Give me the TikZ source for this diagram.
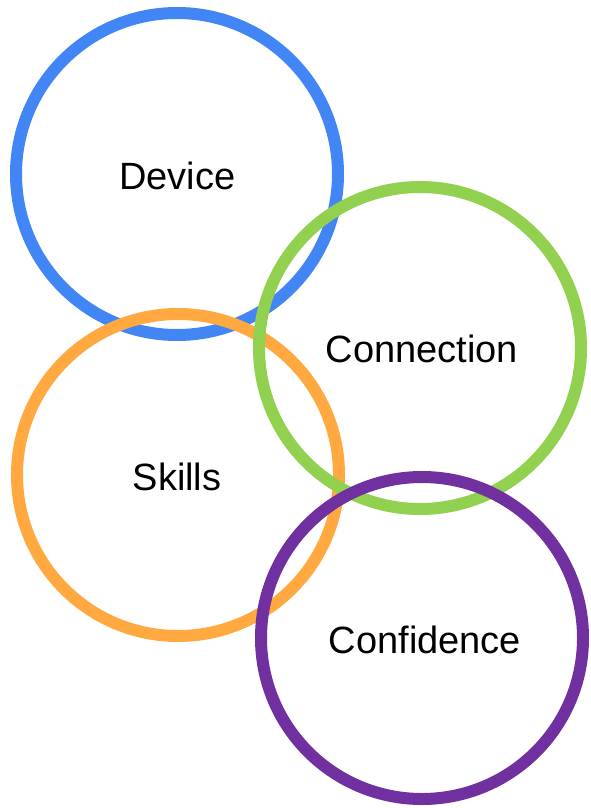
\documentclass[tikz,border=0pt]{standalone}
\usepackage{fontspec}
\setmainfont{Liberation Sans}
\definecolor{cblue}{HTML}{4285F4}
\definecolor{cgreen}{HTML}{92D050}
\definecolor{corange}{HTML}{FFA940}
\definecolor{cpurple}{HTML}{7030A0}
\begin{document}
\begin{tikzpicture}[x=1pt,y=-1pt,
  ring/.style={draw=#1,line width=12pt,circle,minimum size=322pt,inner sep=0pt},
  lbl/.style={font=\fontsize{38}{41}\selectfont,text=black}]
\useasboundingbox (0,0) rectangle (590,808);
\node[ring=cblue] (device) at (177,174) {};
\node[ring=corange] (skills) at (178,475) {};
\node[ring=cgreen] (connection) at (420,348) {};
\node[ring=cpurple] (confidence) at (422,638) {};
\node[lbl] (tdevice) at (177.5,176) {Device};
\node[lbl] (tconnection) at (422,349) {Connection};
\node[lbl] (tskills) at (177,477) {Skills};
\node[lbl] (tconfidence) at (425,640) {Confidence};
\end{tikzpicture}
\end{document}
